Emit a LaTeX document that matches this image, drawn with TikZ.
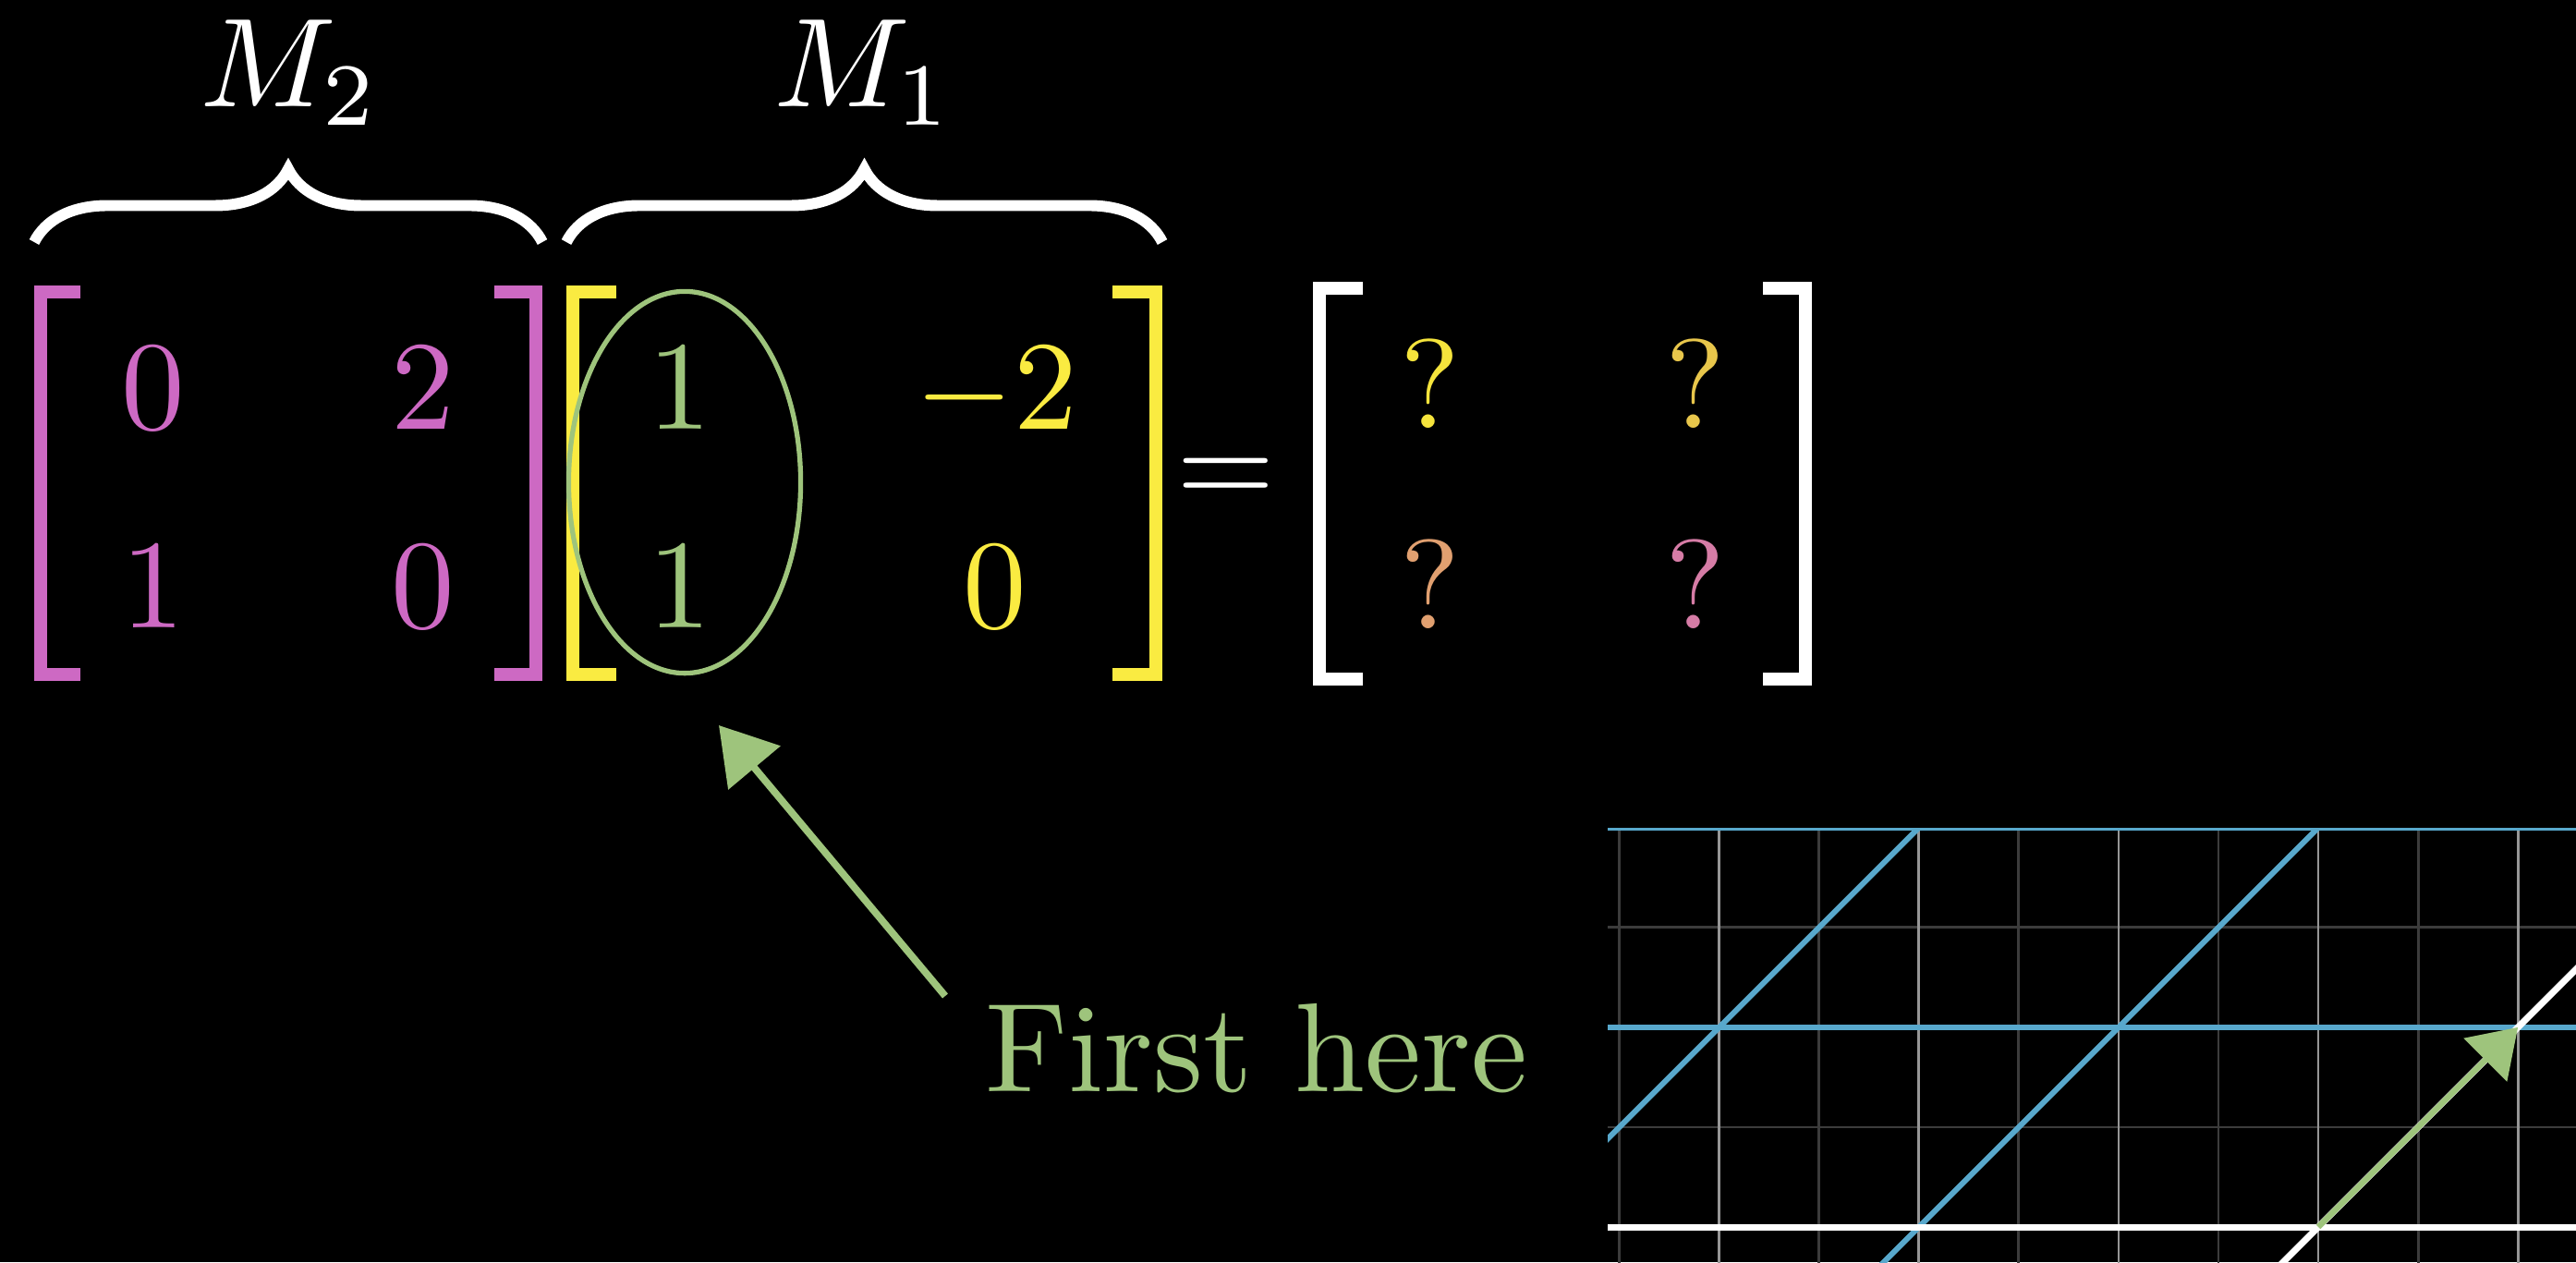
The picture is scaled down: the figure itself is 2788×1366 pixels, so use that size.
\documentclass[tikz,border=0pt]{standalone}
\usepackage{graphicx}
\usepackage{tikz}
\usetikzlibrary{arrows.meta,positioning,shapes.geometric,decorations.pathreplacing}
\usepackage{xcolor}
\definecolor{matpink}{RGB}{205,105,195}
\definecolor{matyellow}{RGB}{250,235,65}
\definecolor{firstgreen}{RGB}{158,196,124}
\definecolor{gridblue}{RGB}{88,168,204}
\definecolor{qyellow}{RGB}{245,228,60}
\definecolor{qgold}{RGB}{232,198,75}
\definecolor{qorange}{RGB}{225,160,112}
\definecolor{qpink}{RGB}{214,124,166}
\definecolor{majorgrey}{RGB}{150,150,150}
\definecolor{minorgrey}{RGB}{60,60,60}
\newcommand{\bigtxt}[1]{\scalebox{3.9}{#1}}
\tikzset{
  entry/.style={anchor=base,inner sep=0pt},
  bracket/.style={line width=4pt},
  bracebar/.style={decorate,decoration={brace,amplitude=0.79cm},line width=3.4pt,white},
  lbl/.style={anchor=base,inner sep=0pt,text=white},
  ring/.style={ellipse,draw=firstgreen,line width=1.5pt,inner sep=0pt,
               minimum width=2.51cm,minimum height=4.13cm},
  pointer/.style={-{Triangle[length=0.6cm,width=0.72cm]},draw=firstgreen,line width=2.2pt},
  minorline/.style={draw=minorgrey,line width=0.8pt},
  majorline/.style={draw=majorgrey,line width=0.8pt},
  tline/.style={draw=gridblue,line width=1.7pt},
  axisline/.style={draw=white,line width=2pt},
  basisvec/.style={-{Triangle[length=0.5cm,width=0.65cm]},draw=firstgreen,line width=1.8pt},
}

\begin{document}
\begin{tikzpicture}[x=0.01cm,y=-0.01cm]
  \useasboundingbox (0,0) rectangle (2788,1366);
  \fill[black] (0,0) rectangle (2788,1366);
  % braces over the two factors
  \coordinate (brA) at (37,262);  \coordinate (brB) at (587,262);
  \coordinate (brC) at (613,262); \coordinate (brD) at (1258,262);
  \draw[bracebar] (brA) -- (brB);
  \draw[bracebar] (brC) -- (brD);
  \node[lbl] (mtwo) at (314,115) {\bigtxt{$M_2$}};
  \node[lbl] (mone) at (935,115) {\bigtxt{$M_1$}};
  % square brackets
  \foreach \xa/\xb/\ya/\yb/\col in {44/87/316/730/matpink, 580/535/316/730/matpink,
      620/667/316/730/matyellow, 1251/1204/316/730/matyellow,
      1428/1475/312/735/white, 1954/1908/312/735/white}{
    \draw[bracket,\col] (\xb,\ya) -- (\xa,\ya) -- (\xa,\yb) -- (\xb,\yb);}
  % entries
  \foreach \nm/\x/\y/\v in {a11/166/464/0, a12/458/464/2, a21/166/679/1, a22/458/679/0}{
    \node[entry,text=matpink] (\nm) at (\x,\y) {\bigtxt{$\v$}};}
  \foreach \nm/\x/\y/\v/\col in {b11/736/464/1/firstgreen, b12/1078/464/-2/matyellow,
      b21/736/679/1/firstgreen, b22/1077/679/0/matyellow}{
    \node[entry,text=\col] (\nm) at (\x,\y) {\bigtxt{$\v$}};}
  \foreach \nm/\x/\y/\col in {c11/1548/463/qyellow, c12/1835/463/qgold,
      c21/1548/680/qorange, c22/1835/680/qpink}{
    \node[entry,text=\col] (\nm) at (\x,\y) {\bigtxt{$?$}};}
  \node[inner sep=0pt,text=white] (eq) at (1327,521) {\bigtxt{$=$}};
  \node[ring] (firstcol) at (741,522) {};
  % pointer to the first column
  \node[anchor=base west,inner sep=0pt,text=firstgreen] (note) at (1066,1181) {\bigtxt{First here}};
  \coordinate (tailpt) at (1023,1078);
  \coordinate (tippt) at (778,785);
  \draw[pointer] (tailpt) -- (tippt);
  % transformed plane
  \begin{scope}
    \clip (1740,896) rectangle (2788,1366);
    \begin{scope}[shift={(2509,1328)},x=2.16cm,y=2.16cm]
      \foreach \gx in {-3.5,-2.5,...,1.5}{\draw[minorline] (\gx,-0.5) -- (\gx,2.2);}
      \foreach \gy in {0.5,1.5}{\draw[minorline] (-4,\gy) -- (2,\gy);}
      \foreach \gx in {-3,...,1}{\draw[majorline] (\gx,-0.5) -- (\gx,2.2);}
      \foreach \gy in {1,2}{\draw[tline] (-4,\gy) -- (2,\gy);}
      \foreach \gk in {-4,-2}{\draw[tline] (\gk-1,-1) -- (\gk+3,3);}
      \draw[axisline] (-4,0) -- (2,0);
      \draw[axisline] (-1,-1) -- (3,3);
      \coordinate (orig) at (0,0);
      \coordinate (ihat) at (1,1);
      \draw[basisvec] (orig) -- (ihat);
    \end{scope}
  \end{scope}
\end{tikzpicture}
\end{document}
